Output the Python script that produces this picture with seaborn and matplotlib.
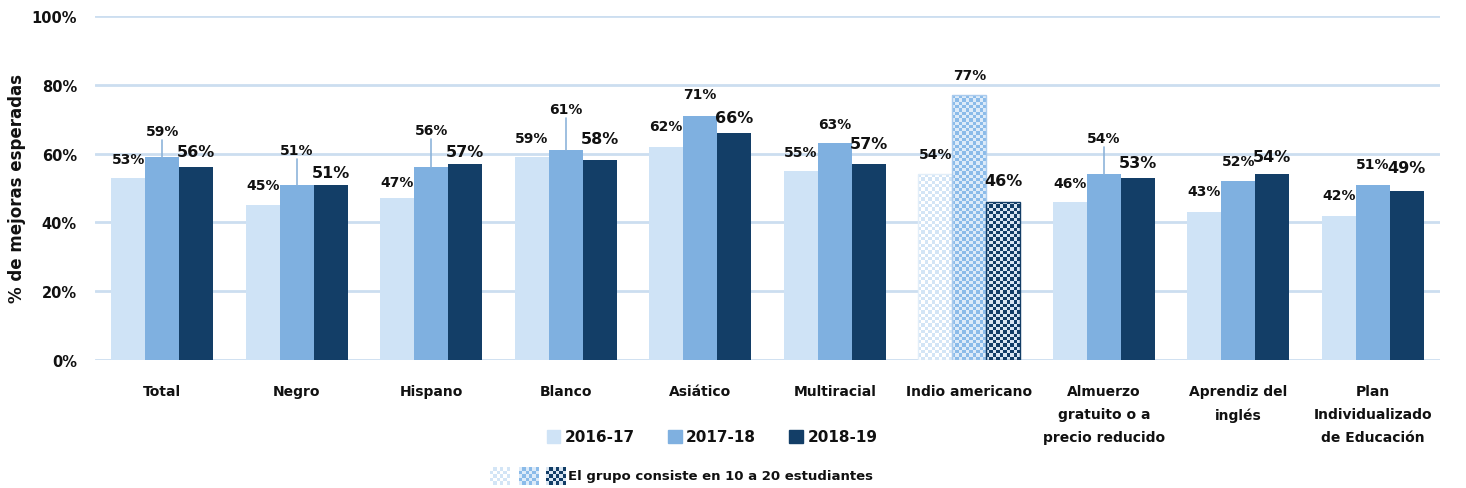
import numpy as np
import pandas as pd
import matplotlib
matplotlib.use("Agg")
import matplotlib.pyplot as plt
from matplotlib.patches import Rectangle
from matplotlib.colors import ListedColormap
import seaborn as sns

# datos
grupos = ["Total", "Negro", "Hispano", "Blanco", "Asiático", "Multiracial",
          "Indio americano", "Almuerzo\ngratuito o a\nprecio reducido",
          "Aprendiz del\ninglés", "Plan\nIndividualizado\nde Educación"]
anios = ["2016-17", "2017-18", "2018-19"]
v_2016 = [53, 45, 47, 59, 62, 55, 54, 46, 43, 42]
v_2017 = [59, 51, 56, 61, 71, 63, 77, 54, 52, 51]
v_2018 = [56, 51, 57, 58, 66, 57, 46, 53, 54, 49]
grupo_pequeno = "Indio americano"   # grupo de 10 a 20 estudiantes

# layout of the value labels (pixels above bar top), not data
off_2016 = [19, 20, 16, 19, 21, 19, 20, 19, 21, 21]
off_2017 = [26, 35, 37, 41, 22, 19, 20, 36, 20, 21]
off_2018 = [16, 12, 12, 22, 15, 20, 21, 15, 18, 24]
con_linea = [True, True, True, True, False, False, False, True, False, False]

colores = ["#CFE3F6", "#7FB0E0", "#133E67"]
cuadros = [("#D3E5F6", "#FFFFFF"), ("#8BBBE9", "#DDEBF9"), ("#123D66", "#DAE6F2")]
bordes = ["#E2EEF9", "#A9CBEE", "#123D66"]
texto = "#111111"

df = pd.DataFrame({
    "grupo": grupos * 3,
    "anio": [a for a in anios for _ in grupos],
    "valor": v_2016 + v_2017 + v_2018,
})

sns.set_theme(style="white")
plt.rcParams["font.family"] = ["DejaVu Sans"]

W, H = 1466, 489
fig = plt.figure(figsize=(W / 100, H / 100), dpi=100)
ax = fig.add_axes([95 / W, 1 - 361 / H, (1440 - 95) / W, (361 - 17) / H])

sns.barplot(data=df, x="grupo", y="valor", hue="anio", hue_order=anios,
            palette=colores, saturation=1, width=0.76, gap=0,
            linewidth=0, legend=False, ax=ax)

ax.set_ylim(0, 100)
ax.set_xlim(-0.5, len(grupos) - 0.5)
ax.set_yticks(range(0, 101, 20))
ax.set_yticklabels([f"{v}%" for v in range(0, 101, 20)])
ax.yaxis.grid(True, color="#CCDEF0", linewidth=2)
ax.set_axisbelow(True)
for s in ax.spines.values():
    s.set_visible(False)
ax.tick_params(axis="y", length=0, pad=13, labelsize=10.5, labelcolor=texto)
ax.tick_params(axis="x", length=0, pad=17, labelsize=10, labelcolor=texto)
for t in ax.get_yticklabels():
    t.set_fontweight("bold")
for t in ax.get_xticklabels():
    t.set_fontweight("bold")
    t.set_linespacing(1.85)
    t.set_verticalalignment("top")
ax.set_xlabel("")
ax.set_ylabel("% de mejoras esperadas", fontsize=12, fontweight="bold", color=texto)
ax.yaxis.set_label_coords(-0.051, 0.5)

px_y = 100 / 344  # data units per pixel on y
idx_peq = grupos.index(grupo_pequeno)


def cuadricula(patch, c1, c2, cell=3.3):
    x0, y0 = patch.get_x(), patch.get_y()
    w, h = patch.get_width(), patch.get_height()
    p0 = ax.transData.transform((x0, y0))
    p1 = ax.transData.transform((x0 + w, y0 + h))
    nx = max(1, int(round((p1[0] - p0[0]) / cell)))
    ny = max(1, int(round((p1[1] - p0[1]) / cell)))
    arr = np.add.outer(np.arange(ny), np.arange(nx)) % 2
    im = ax.imshow(arr, extent=(x0, x0 + w, y0, y0 + h), origin="lower",
                   cmap=ListedColormap([c2, c1]), interpolation="nearest",
                   aspect="auto", zorder=patch.get_zorder())
    im.set_clip_path(patch)


offsets = [off_2016, off_2017, off_2018]
for k, cont in enumerate(ax.containers):
    for i, bar in enumerate(cont.patches):
        v = bar.get_height()
        xc = bar.get_x() + bar.get_width() / 2
        if i == idx_peq:
            bar.set_facecolor("none")
            bar.set_edgecolor(bordes[k])
            bar.set_linewidth(1)
            cuadricula(bar, *cuadros[k])
            bar.set_zorder(bar.get_zorder() + 0.1)
        size = 11.5 if k == 2 else 10
        ax.annotate(f"{v:.0f}%", (xc, v), xytext=(0, offsets[k][i]),
                    textcoords="offset pixels", ha="center", va="center",
                    fontsize=size, fontweight="bold", color=texto)
        if k == 1 and con_linea[i]:
            ax.plot([xc, xc], [v, v + (offsets[k][i] - 9) * px_y],
                    color="#8DB4DA", linewidth=1.2, zorder=3)

ax.set_xlim(-0.5, len(grupos) - 0.5)
ax.set_ylim(0, 100)

# leyenda
handles = [Rectangle((0, 0), 1, 1, color=c) for c in colores]
fig.legend(handles, anios, ncol=3, loc="center",
           bbox_to_anchor=(712 / W, 1 - 438 / H), frameon=False,
           prop=dict(weight="bold", size=11), handlelength=0.9,
           handleheight=0.9, handletextpad=0.3, columnspacing=2.15,
           labelcolor=texto)

for j, x0 in enumerate([490, 519, 546]):
    sax = fig.add_axes([x0 / W, 1 - 486 / H, 20 / W, 18 / H])
    arr = np.add.outer(np.arange(5), np.arange(6)) % 2
    sax.imshow(arr, cmap=ListedColormap([cuadros[j][1], cuadros[j][0]]),
               interpolation="nearest", aspect="auto")
    sax.axis("off")
fig.text(568 / W, 1 - 477 / H, "El grupo consiste en 10 a 20 estudiantes",
         ha="left", va="center", fontsize=9.5, fontweight="bold", color=texto)

fig.savefig("out.png", dpi=100)
